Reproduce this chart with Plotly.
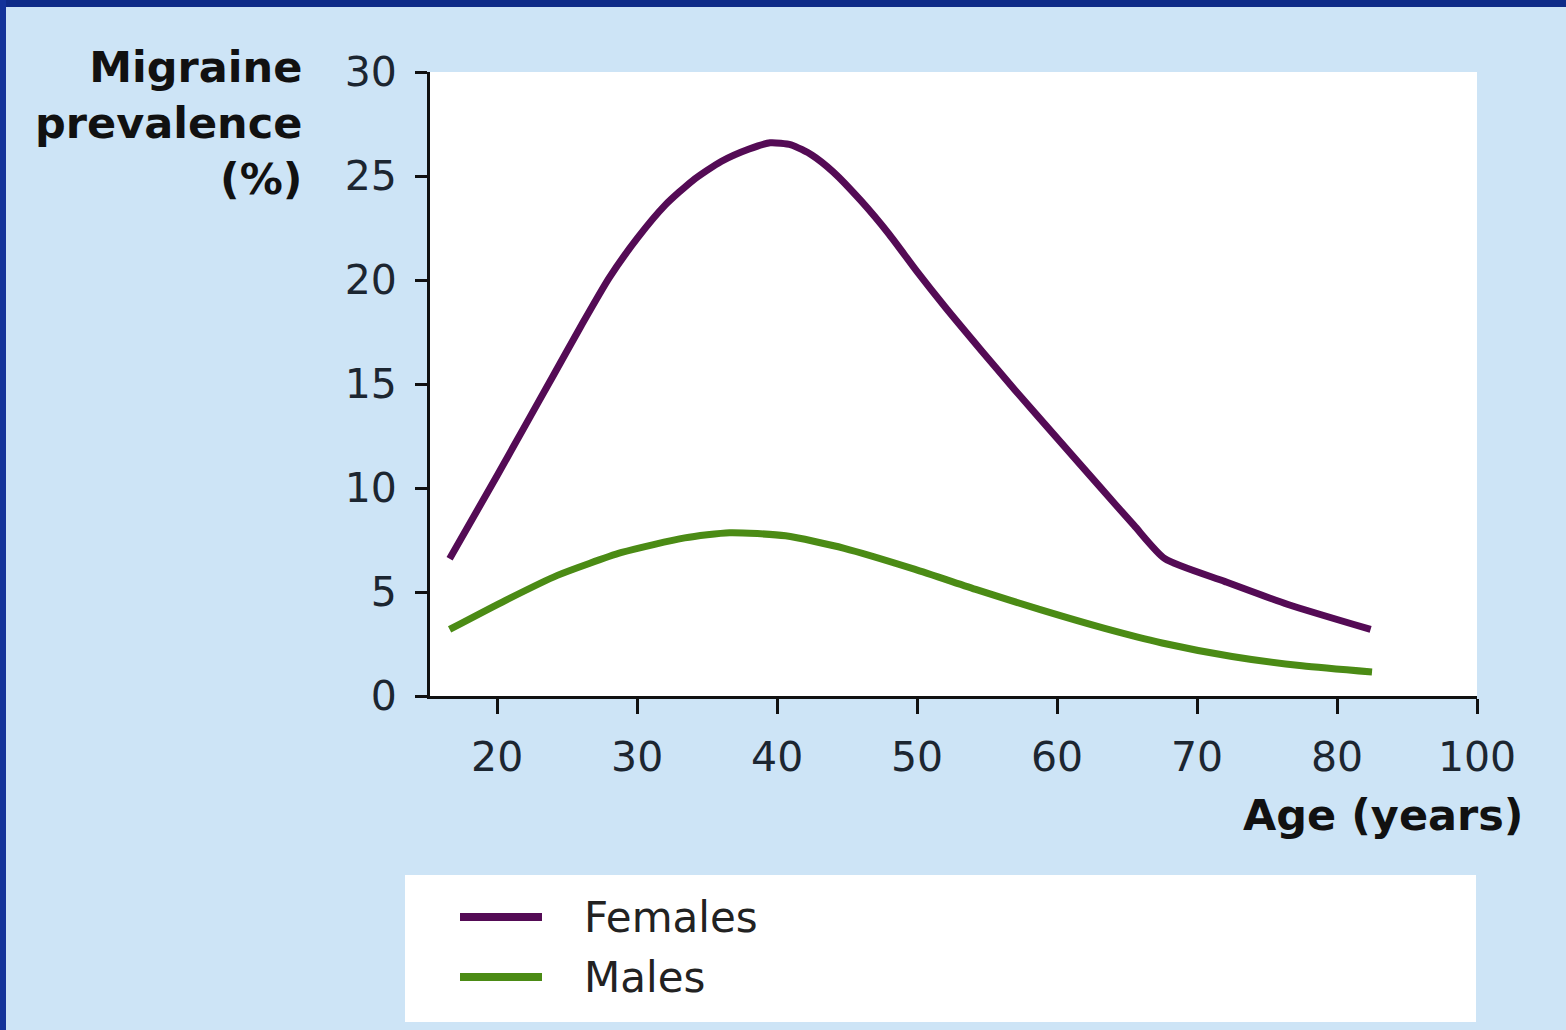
import plotly.graph_objects as go

# Age (years) and migraine prevalence (%) by sex
female_age = [16.6, 20.0, 22.0, 24.0, 26.0, 28.0, 30.0, 32.0, 34.0, 36.0, 38.0, 39.5, 41.0, 42.5, 44.0, 46.0, 48.0,
              50.0, 52.0, 54.6, 57.0, 60.0, 63.0, 65.5, 67.7, 72.0, 76.5, 82.4]
female_prev = [6.6, 10.6, 13.0, 15.4, 17.8, 20.1, 22.0, 23.6, 24.8, 25.7, 26.3, 26.6, 26.5, 26.0, 25.2, 23.8, 22.2,
               20.4, 18.7, 16.6, 14.7, 12.4, 10.1, 8.2, 6.6, 5.5, 4.4, 3.2]

male_age = [16.6, 20.6, 24.3, 28.9, 33.4, 36.6, 40.6, 44.8, 49.8, 54.3, 58.8, 63.4, 67.5, 72.5, 77.5, 82.5]
male_prev = [3.2, 4.6, 5.8, 6.9, 7.6, 7.85, 7.7, 7.1, 6.1, 5.1, 4.15, 3.25, 2.55, 1.9, 1.45, 1.15]

series_names = ["Females", "Males"]
series_colors = ["#540b55", "#4b8b15"]

y_ticks = [0, 5, 10, 15, 20, 25, 30]
# the last interval on the age axis is compressed: 80 -> 100 spans one tick step
x_tickvals = [20, 30, 40, 50, 60, 70, 80, 90]
x_ticktext = ["20", "30", "40", "50", "60", "70", "80", "100"]

W, H = 1566, 1030
L, R, T, B = 430, 89, 72, 334
PW, PH = W - L - R, H - T - B


def px(x):
    return (x - L) / PW


def py(y):
    return (H - B - y) / PH


fig = go.Figure()
for name, color, xs, ys in [
    (series_names[0], series_colors[0], female_age, female_prev),
    (series_names[1], series_colors[1], male_age, male_prev),
]:
    fig.add_trace(go.Scatter(
        x=xs, y=ys, mode="lines", name=name,
        line=dict(color=color, width=7, shape="spline", smoothing=0.6),
        showlegend=False,
    ))

tick_font = dict(family="DejaVu Sans", size=41, color="#1c2631")
bold_font = dict(family="DejaVu Sans", size=43, color="#111111", weight="bold")

shapes = [
    # navy frame on top and left edges
    dict(type="rect", xref="paper", yref="paper", x0=px(0), x1=px(W), y0=py(0), y1=py(7),
         fillcolor="#0e2b88", line_width=0, layer="above"),
    dict(type="rect", xref="paper", yref="paper", x0=px(0), x1=px(6), y0=py(0), y1=py(H),
         fillcolor="#13339a", line_width=0, layer="above"),
    # white key panel
    dict(type="rect", xref="paper", yref="paper", x0=px(405), x1=px(1476), y0=py(875), y1=py(1022),
         fillcolor="#ffffff", line_width=0, layer="below"),
]
annotations = [
    dict(text="Migraine<br>prevalence<br>(%)", xref="paper", yref="paper", x=px(304), y=py(123),
         xanchor="right", yanchor="middle", align="right", showarrow=False, font=bold_font),
    dict(text="Age (years)", xref="paper", yref="paper", x=px(1526), y=py(815),
         xanchor="right", yanchor="middle", showarrow=False, font=bold_font),
]

# key entries
for i, (name, color) in enumerate(zip(series_names, series_colors)):
    yk = 917 + i * 60
    shapes.append(dict(type="line", xref="paper", yref="paper", x0=px(460), x1=px(542),
                       y0=py(yk), y1=py(yk), line=dict(color=color, width=8), layer="above"))
    annotations.append(dict(text=name, xref="paper", yref="paper", x=px(582), y=py(yk),
                            xanchor="left", yanchor="middle", showarrow=False,
                            font=dict(family="DejaVu Sans", size=42, color="#222222")))

fig.update_layout(
    width=W, height=H,
    margin=dict(l=L, r=R, t=T, b=B, pad=0),
    paper_bgcolor="#cde4f6",
    plot_bgcolor="#ffffff",
    shapes=shapes,
    annotations=annotations,
    xaxis=dict(range=[15.2, 90], tickvals=x_tickvals, ticktext=x_ticktext,
               showgrid=False, zeroline=False, showline=True, linecolor="#111111", linewidth=3,
               ticks="outside", ticklen=15, tickwidth=3, tickcolor="#111111",
               tickfont=tick_font, ticklabelstandoff=8),
    yaxis=dict(range=[0, 30], tickvals=y_ticks,
               showgrid=False, zeroline=False, showline=True, linecolor="#111111", linewidth=3,
               ticks="outside", ticklen=12, tickwidth=3, tickcolor="#111111",
               tickfont=tick_font, ticklabelstandoff=10),
)

fig.write_html("out.html")
